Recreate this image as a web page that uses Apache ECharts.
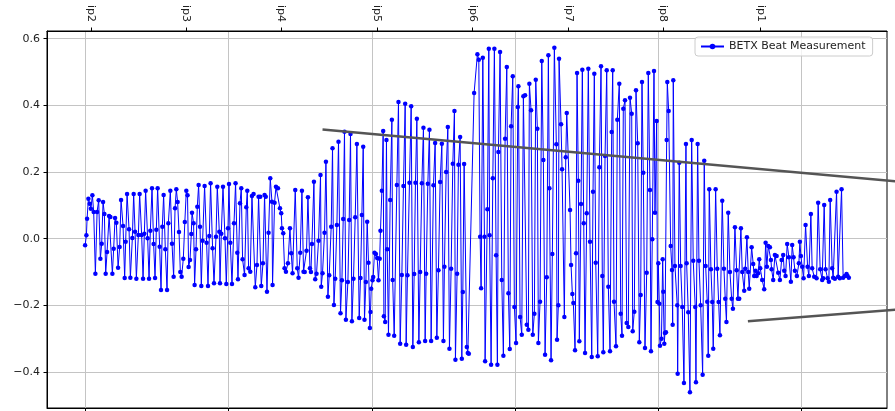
<!DOCTYPE html>
<html>
<head>
<meta charset="utf-8">
<script src="https://cdn.jsdelivr.net/npm/echarts@6/dist/echarts.min.js"></script>
<style>
html,body{margin:0;padding:0;background:#fff;}
#chart{width:895px;height:411px;}
</style>
</head>
<body>
<div id="chart"></div>
<script>
// Longitudinal position s [m] and horizontal beta-beat
const octantIR2toIR3 = [[-10,-0.02],[35,0.01],[59,0.06],[105,0.12],[150,0.105],[192,0.09],[244,0.13],[290,0.08],[349,-0.105],[408,0.08],[464,0.115],[523,-0.06],[569,-0.015],[617,0.11],[663,0.074],[708,-0.105],[757,-0.04],[827,0.068],[872,0.065],[942,-0.105],[987,-0.03],[1036,0.062],[1081,0.048],[1141,-0.087],[1196,-0.025],[1245,0.116],[1315,0.038],[1371,-0.118],[1406,-0.009],[1455,0.134],[1524,0.028],[1570,-0.117],[1639,0.002],[1685,0.134],[1734,0.021],[1779,-0.12],[1849,0.011],[1894,0.134],[1964,0.011],[2013,-0.12],[2058,0.015],[2103,0.144],[2173,0.001],[2222,-0.12],[2267,0.024],[2326,0.151],[2382,-0.016],[2431,-0.118],[2476,0.027],[2522,0.151],[2592,-0.024],[2640,-0.154],[2686,0.036],[2731,0.131],[2790,-0.032],[2850,-0.154],[2895,0.046],[2965,0.144],[3024,-0.015],[3080,-0.114],[3129,0.091],[3174,0.148],[3219,0.11],[3268,0.02],[3314,-0.1],[3359,-0.114],[3418,-0.06],[3471,0.05]];

const octantIR3toIR5 = [[3523,0.144],[3565,0.13],[3603,-0.085],[3652,-0.064],[3697,0.014],[3722,0.078],[3777,0.046],[3812,-0.139],[3861,-0.032],[3907,0.096],[3952,0.161],[4001,0.036],[4046,-0.142],[4091,-0.006],[4161,0.158],[4231,-0.012],[4280,-0.142],[4325,0.008],[4370,0.166],[4440,-0.029],[4489,-0.134],[4559,0.006],[4604,0.156],[4674,0.021],[4698,-0.134],[4744,0.015],[4803,0.156],[4873,0.001],[4918,-0.136],[4977,0.031],[5012,0.164],[5058,-0.012],[5117,-0.136],[5187,0.046],[5242,0.166],[5302,-0.042],[5326,-0.122],[5396,0.106],[5441,0.151],[5487,-0.062],[5556,-0.109],[5616,0.094],[5651,0.144],[5696,-0.089],[5755,-0.099],[5814,0.128],[5870,0.134],[5930,-0.146],[5989,-0.079],[6045,0.126],[6104,0.126],[6139,-0.142],[6198,-0.074],[6254,0.131],[6296,0.126],[6338,-0.159],[6394,0.018],[6453,0.181],[6512,0.111],[6533,-0.139],[6603,0.108],[6652,0.156],[6721,0.151],[6791,0.091],[6836,0.076],[6861,0.031],[6906,0.016],[6952,-0.089],[7000,-0.099],[7070,-0.074],[7140,0.031],[7185,-0.044],[7231,-0.104],[7325,0.146],[7395,-0.089],[7440,-0.117],[7499,-0.042],[7559,0.144],[7614,-0.099],[7656,-0.1],[7719,-0.036],[7768,0.124],[7838,-0.089],[7872,-0.1],[7907,-0.016],[7977,0.171],[8022,-0.122],[8068,-0.105],[8138,-0.006],[8207,0.191],[8232,-0.144],[8277,-0.104],[8347,0.018],[8396,0.231],[8465,-0.174],[8511,-0.11],[8580,0.036],[8626,0.271],[8675,-0.199],[8720,-0.12],[8779,0.041],[8835,0.291],[8905,-0.224],[8954,-0.125],[8999,0.059],[9044,0.321],[9093,-0.243],[9163,-0.13],[9208,0.056],[9254,0.314],[9303,-0.248],[9358,-0.12],[9418,0.064],[9477,0.284],[9557,-0.238],[9603,-0.118],[9651,0.071],[9697,0.276],[9742,-0.243],[9791,-0.13],[9836,0.051],[9882,-0.072],[9930,-0.268],[9951,-0.22],[9976,-0.15],[10021,-0.125],[10045,-0.115],[10091,-0.042],[10140,-0.046],[10185,-0.058],[10230,-0.125],[10272,-0.06]];

const octantIR5toIR7 = [[10300,0.024],[10349,0.144],[10394,0.323],[10419,-0.233],[10464,-0.25],[10509,0.296],[10534,-0.032],[10579,-0.288],[10638,0.116],[10698,0.357],[10726,-0.124],[10778,-0.291],[10872,0.161],[10928,0.41],[10987,-0.315],[11046,-0.109],[11102,0.158],[11162,0.405],[11196,-0.318],[11242,-0.11],[11312,0.168],[11371,0.397],[11430,-0.325],[11476,-0.106],[11521,0.168],[11570,0.36],[11640,-0.311],[11685,-0.1],[11744,0.166],[11800,0.333],[11859,-0.307],[11894,-0.105],[11953,0.165],[12009,0.327],[12068,-0.307],[12149,0.16],[12208,0.287],[12267,-0.297],[12323,-0.095],[12382,0.17],[12442,0.285],[12497,-0.307],[12532,-0.084],[12592,0.2],[12651,0.335],[12707,-0.33],[12766,-0.09],[12825,0.225],[12881,0.383],[12916,-0.363],[12975,-0.105],[13021,0.222],[13080,0.305],[13139,-0.36],[13174,-0.16],[13220,0.224],[13314,-0.325],[13349,-0.343],[13384,-0.345],[13568,0.437],[13683,0.553],[13732,0.537],[13778,0.006],[13812,-0.149],[13872,0.543],[13928,0.006],[13952,-0.368],[14032,0.088],[14081,0.57],[14109,0.01],[14161,-0.378],[14221,0.181],[14276,0.57],[14336,-0.05],[14381,-0.378],[14416,0.26],[14475,0.56],[14534,-0.124],[14590,-0.351],[14650,0.3],[14709,0.515],[14765,-0.164],[14813,-0.331],[14859,0.337],[14918,0.487],[14974,-0.205],[15033,-0.313],[15093,0.395],[15114,0.457],[15173,-0.235],[15232,-0.288],[15288,0.427],[15347,0.43],[15407,-0.258],[15462,-0.273],[15497,0.465],[15556,0.385],[15616,-0.288],[15672,-0.225],[15720,0.477],[15776,0.33],[15811,-0.313],[15870,-0.189],[15930,0.533],[15985,0.236],[16045,-0.348],[16104,-0.116],[16160,0.55],[16195,0.151],[16254,-0.365],[16299,-0.046],[16369,0.573],[16439,0.283],[16463,-0.303],[16509,-0.2],[16533,0.54],[16603,0.343],[16638,0.208],[16718,-0.235],[16767,0.244],[16802,0.377]];

const octantIR7toIR2 = [[16917,0.086],[16952,-0.079],[16997,-0.166],[17032,-0.193],[17091,-0.335],[17126,-0.044],[17161,0.497],[17206,0.174],[17241,-0.308],[17300,0.104],[17346,0.507],[17395,0.046],[17440,-0.343],[17499,0.076],[17555,0.51],[17614,-0.009],[17674,-0.355],[17719,0.141],[17764,0.495],[17813,-0.072],[17883,-0.353],[17939,0.214],[17998,0.517],[18043,-0.112],[18078,-0.341],[18138,0.248],[18197,0.505],[18253,-0.144],[18312,-0.338],[18371,0.32],[18406,0.505],[18452,-0.189],[18521,-0.323],[18567,0.357],[18636,0.465],[18685,-0.225],[18731,-0.291],[18776,0.39],[18835,0.415],[18894,-0.253],[18950,-0.265],[19010,0.423],[19069,0.375],[19104,-0.278],[19160,-0.219],[19219,0.445],[19278,0.286],[19334,-0.311],[19383,-0.169],[19428,0.47],[19474,0.198],[19533,-0.328],[19592,-0.102],[19648,0.497],[19707,0.146],[19742,-0.338],[19787,-0.002],[19847,0.503],[19882,0.078],[19941,0.353],[19969,-0.19],[19997,-0.074],[20032,-0.195],[20056,-0.321],[20108,-0.3],[20150,-0.062],[20171,-0.159],[20206,-0.315],[20230,-0.283],[20265,-0.281],[20290,0.296],[20311,0.47],[20359,0.383],[20429,-0.022],[20475,-0.094],[20499,-0.258],[20520,0.475],[20579,-0.082],[20659,-0.2],[20673,-0.405],[20729,0.228],[20778,-0.082],[20834,-0.205],[20893,-0.433],[20963,0.284],[20987,-0.074],[21043,-0.221],[21102,-0.461],[21162,0.296],[21217,-0.066],[21287,-0.205],[21312,-0.431],[21371,0.284],[21416,-0.066],[21476,-0.2],[21545,-0.408],[21601,0.234],[21650,-0.082],[21706,-0.189],[21741,-0.351],[21776,0.148],[21835,-0.092],[21880,-0.19],[21915,-0.33],[21999,0.148],[22055,-0.09],[22103,-0.19],[22149,-0.29],[22229,0.114],[22288,-0.09],[22334,-0.18],[22376,-0.25],[22438,0.078],[22498,-0.1],[22557,-0.18],[22602,-0.21],[22672,0.034],[22731,-0.095],[22777,-0.18],[22822,-0.18],[22881,0.031],[22927,-0.1],[22996,-0.156],[23031,-0.09],[23091,0.004],[23136,-0.1],[23171,-0.15],[23255,-0.026],[23310,-0.076],[23345,-0.112],[23394,-0.096],[23429,-0.112],[23485,-0.104],[23520,-0.062],[23555,-0.089],[23624,-0.124],[23694,-0.152],[23743,-0.012],[23788,-0.084],[23834,-0.022],[23893,-0.026],[23928,-0.064],[23952,-0.092],[24008,-0.124],[24067,-0.049],[24127,-0.052],[24182,-0.102],[24242,-0.124],[24301,-0.064],[24357,-0.049],[24392,-0.096],[24440,-0.112],[24496,-0.016],[24556,-0.056],[24625,-0.129],[24671,-0.019],[24719,-0.056],[24765,-0.096],[24835,-0.112],[24904,-0.074],[24939,-0.009],[24974,-0.052],[25019,-0.084],[25068,-0.119],[25138,0.041],[25208,-0.084],[25253,-0.112],[25323,0.074],[25368,-0.089],[25438,-0.114],[25522,-0.119],[25577,0.108],[25647,-0.092],[25717,-0.124],[25752,-0.119],[25787,0.101],[25836,-0.092],[25905,-0.119],[25951,-0.129],[25996,0.116],[26066,-0.089],[26101,-0.117],[26160,-0.12],[26219,0.141],[26275,-0.114],[26334,-0.119],[26394,0.148],[26449,-0.117],[26509,-0.112],[26568,-0.106],[26603,-0.112],[26648,-0.117]];

// Interaction point labels on the top axis
const ipNames = ['ip2','ip3','ip4','ip5','ip6','ip7','ip8','ip1'];
const ipPositions = [199, 3523, 6840, 10175, 13509, 16858, 20171, 23560];

// Tick values
const sTicks = [0, 5000, 10000, 15000, 20000, 25000];
const betaTicks = [-0.4, -0.2, 0.0, 0.2, 0.4, 0.6];

// Grey guide lines (endpoints in data coordinates)
const upperGuide = [[8277, 0.3275], [28427, 0.1713]];
const lowerGuide = [[23125, -0.2479], [28427, -0.2123]];

const seriesName = 'BETX Beat Measurement';
const FONT = 'DejaVu Sans';

const measurement = [].concat(octantIR2toIR3, octantIR3toIR5, octantIR5toIR7, octantIR7toIR2);

// Axis ranges (main plot) and the wider overlay extent for the guides
const sMin = -1340, sMax = 27980;
const yMin = -0.508, yMax = 0.623;
const plotLeft = 47, plotRight = 8, canvasW = 895;
const plotW = canvasW - plotLeft - plotRight;
const overlayW = canvasW - plotLeft;
const overlayMax = sMin + (sMax - sMin) * overlayW / plotW;

const chart = echarts.init(document.getElementById('chart'), null, {renderer: 'canvas'});
const gridColor = '#c4c4c4';
const fmtY = v => (v < 0 ? '\u2212' : '') + Math.abs(v).toFixed(1);

chart.setOption({
  animation: false,
  backgroundColor: '#ffffff',
  grid: [
    {left: plotLeft, top: 31, right: plotRight, bottom: 3, show: true, borderColor: '#000', borderWidth: 1, outerBoundsMode: 'none', containLabel: false},
    {left: plotLeft, top: 31, right: 0, bottom: 3, show: false, outerBoundsMode: 'none', containLabel: false}
  ],
  legend: {
    data: [seriesName],
    left: 695, top: 37,
    padding: [4, 7, 4, 5],
    itemWidth: 23, itemHeight: 7,
    backgroundColor: 'rgba(255,255,255,0.8)',
    borderColor: '#cccccc', borderWidth: 1, borderRadius: 3,
    textStyle: {fontFamily: FONT, fontSize: 11, color: '#222'}
  },
  xAxis: [
    {
      gridIndex: 0, type: 'value', position: 'bottom', min: sMin, max: sMax,
      axisLine: {show: true, onZero: false, lineStyle: {color: '#000', width: 1}},
      axisTick: {show: true, length: 3.5, customValues: sTicks, lineStyle: {color: '#000'}},
      axisLabel: {show: false, customValues: sTicks},
      splitLine: {show: true, lineStyle: {color: gridColor, width: 1}}
    },
    {
      gridIndex: 0, type: 'value', position: 'top', min: sMin, max: sMax,
      axisLine: {show: true, onZero: false, lineStyle: {color: '#000', width: 1}},
      axisTick: {show: true, length: 3.5, customValues: ipPositions, lineStyle: {color: '#000'}},
      axisLabel: {
        show: true, customValues: ipPositions, rotate: 90, margin: 9,
        fontFamily: FONT, fontSize: 11, color: '#222',
        formatter: v => { const i = ipPositions.indexOf(v); return i >= 0 ? ipNames[i] : ''; }
      },
      splitLine: {show: false}
    },
    {
      gridIndex: 1, type: 'value', min: sMin, max: overlayMax, show: false,
      splitLine: {show: false}
    }
  ],
  yAxis: [
    {
      gridIndex: 0, type: 'value', min: yMin, max: yMax,
      axisLine: {show: true, onZero: false, lineStyle: {color: '#000', width: 1}},
      axisTick: {show: true, length: 3.5, customValues: betaTicks, lineStyle: {color: '#000'}},
      axisLabel: {show: true, customValues: betaTicks, margin: 7, fontFamily: FONT, fontSize: 11, color: '#222', formatter: fmtY},
      splitLine: {show: true, lineStyle: {color: gridColor, width: 1}}
    },
    {
      gridIndex: 1, type: 'value', min: yMin, max: yMax, show: false,
      splitLine: {show: false}
    }
  ],
  series: [
    {
      name: seriesName, type: 'line', xAxisIndex: 0, yAxisIndex: 0, data: measurement,
      symbol: 'circle', symbolSize: 4.5, showSymbol: true, showAllSymbol: true,
      color: '#0000ff',
      lineStyle: {color: '#0000ff', width: 1},
      itemStyle: {color: '#0000ff'},
      z: 2
    },
    {
      name: 'guideUpper', type: 'line', xAxisIndex: 2, yAxisIndex: 1, data: upperGuide,
      symbol: 'none', silent: true,
      lineStyle: {color: '#555555', width: 2.5}, z: 5
    },
    {
      name: 'guideLower', type: 'line', xAxisIndex: 2, yAxisIndex: 1, data: lowerGuide,
      symbol: 'none', silent: true,
      lineStyle: {color: '#555555', width: 2.5}, z: 5
    }
  ]
});
</script>
</body>
</html>
